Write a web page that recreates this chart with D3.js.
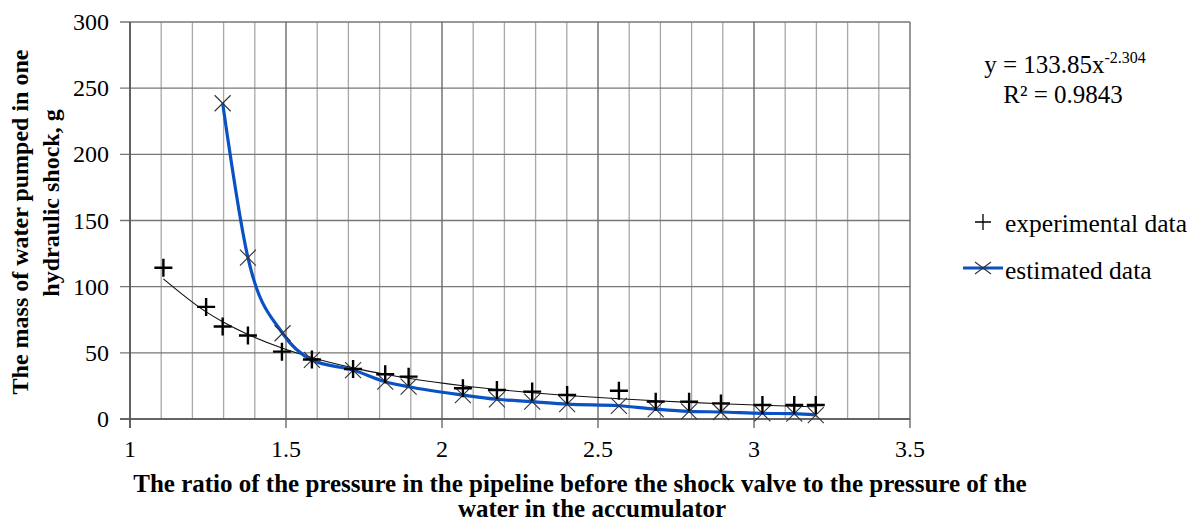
<!DOCTYPE html>
<html>
<head>
<meta charset="utf-8">
<script src="https://cdn.jsdelivr.net/npm/d3@7/dist/d3.min.js"></script>
<style>
  html, body { margin: 0; padding: 0; background: #fff; }
  svg { display: block; }
  text { font-family: "Liberation Serif", "Times New Roman", Times, serif; fill: #000; }
</style>
</head>
<body>
<svg id="chart" width="1196" height="523"></svg>
<script>
// ---- data ----
const expX = [1.107, 1.244, 1.297, 1.378, 1.487, 1.583, 1.715, 1.818, 1.893, 2.067, 2.176, 2.289, 2.401, 2.567, 2.685, 2.792, 2.894, 3.027, 3.129, 3.198];
const expY = [114.3, 84.7, 69.9, 63.1, 50.9, 45.0, 37.8, 33.8, 32.0, 23.2, 21.9, 20.7, 18.1, 21.4, 13.1, 13.1, 11.8, 10.6, 10.6, 10.6];
const estX = [1.297, 1.378, 1.489, 1.583, 1.715, 1.818, 1.893, 2.067, 2.176, 2.289, 2.401, 2.567, 2.685, 2.792, 2.894, 3.027, 3.129, 3.198];
const estY = [238.6, 121.9, 64.8, 44.6, 37.0, 28.2, 24.4, 18.1, 14.9, 13.1, 11.2, 10.0, 7.5, 5.8, 5.3, 4.3, 4.0, 3.0];
// power trendline of experimental data, as displayed: y = 133.85 x^-2.304
const trendA = 133.85;
const trendB = -2.304;
const xTicks = [1, 1.5, 2, 2.5, 3, 3.5];
const xMinor = [1.1, 1.2, 1.3, 1.4, 1.6, 1.7, 1.8, 1.9, 2.1, 2.2, 2.3, 2.4, 2.6, 2.7, 2.8, 2.9, 3.1, 3.2, 3.3, 3.4];
const yTicks = [0, 50, 100, 150, 200, 250, 300];
const seriesNames = ["experimental data", "estimated data"];
const xTitle = ["The ratio of the pressure in the pipeline before the shock valve to the pressure of the", "water in the accumulator"];
const yTitle = ["The mass of water pumped in one", "hydraulic shock, g"];

// ---- layout ----
const svg = d3.select("#chart");
const L = 130, R = 910, T = 22, B = 419;
const x = d3.scaleLinear().domain([1, 3.5]).range([L, R]);
const y = d3.scaleLinear().domain([0, 300]).range([B, T]);

// grid
const g = svg.append("g");
g.selectAll("line.minor").data(xMinor).join("line")
  .attr("x1", d => x(d)).attr("x2", d => x(d)).attr("y1", T).attr("y2", B)
  .attr("stroke", "#a8a8a8").attr("stroke-width", 1.3);
g.selectAll("line.hgrid").data(yTicks).join("line")
  .attr("x1", L - 10).attr("x2", R).attr("y1", d => y(d)).attr("y2", d => y(d))
  .attr("stroke", "#777").attr("stroke-width", 1.3);
g.selectAll("line.major").data(xTicks).join("line")
  .attr("x1", d => x(d)).attr("x2", d => x(d)).attr("y1", T).attr("y2", B + 9)
  .attr("stroke", "#6a6a6a").attr("stroke-width", 1.4);

// axes lines
g.append("line").attr("x1", L).attr("x2", L).attr("y1", T).attr("y2", B + 9)
  .attr("stroke", "#555").attr("stroke-width", 1.6);
g.append("line").attr("x1", L - 10).attr("x2", R).attr("y1", B).attr("y2", B)
  .attr("stroke", "#555").attr("stroke-width", 1.6);

// tick labels
svg.append("g").selectAll("text").data(yTicks).join("text")
  .attr("x", 109).attr("y", d => y(d) + 8)
  .attr("text-anchor", "end").attr("font-size", 24)
  .text(d => d);
svg.append("g").selectAll("text").data(xTicks).join("text")
  .attr("x", d => x(d)).attr("y", 457)
  .attr("text-anchor", "middle").attr("font-size", 24)
  .text(d => d);

// trendline
const trendPts = expX.map(v => [v, trendA * Math.pow(v, trendB)]);
svg.append("path").datum(trendPts)
  .attr("d", d3.line().x(d => x(d[0])).y(d => y(d[1])).curve(d3.curveMonotoneX))
  .attr("fill", "none").attr("stroke", "#111").attr("stroke-width", 1.1);

// estimated line
const estPts = estX.map((v, i) => [v, estY[i]]);
svg.append("path").datum(estPts)
  .attr("d", d3.line().x(d => x(d[0])).y(d => y(d[1])).curve(d3.curveMonotoneX))
  .attr("fill", "none").attr("stroke", "#0a52c4").attr("stroke-width", 3.2);

const crossPath = "M-8,-8L8,8M-8,8L8,-8";
const plusPath = "M-9,0H9M0,-9V9";
svg.append("g").selectAll("path").data(estPts).join("path")
  .attr("transform", d => `translate(${x(d[0])},${y(d[1])})`)
  .attr("d", crossPath).attr("stroke", "#333").attr("stroke-width", 1.1).attr("fill", "none");
const expPts = expX.map((v, i) => [v, expY[i]]);
svg.append("g").selectAll("path").data(expPts).join("path")
  .attr("transform", d => `translate(${x(d[0])},${y(d[1])})`)
  .attr("d", plusPath).attr("stroke", "#000").attr("stroke-width", 2.4).attr("fill", "none");

// axis titles
svg.append("g").selectAll("text").data(xTitle).join("text")
  .attr("x", (d, i) => i === 0 ? 580 : 592).attr("y", (d, i) => 492 + i * 25)
  .attr("text-anchor", "middle").attr("font-size", 25).attr("font-weight", "bold")
  .text(d => d);
svg.append("g").selectAll("text").data(yTitle).join("text")
  .attr("transform", (d, i) => `translate(${i === 0 ? 28 : 59},${i === 0 ? 222 : 203}) rotate(-90)`)
  .attr("text-anchor", "middle").attr("font-size", 24).attr("font-weight", "bold")
  .text(d => d);

// equation
const eq = svg.append("text").attr("x", 1065).attr("y", 73).attr("text-anchor", "middle").attr("font-size", 25);
eq.append("tspan").text("y = " + trendA + "x");
eq.append("tspan").attr("dy", -10).attr("font-size", 16).text(String(trendB));
svg.append("text").attr("x", 1063).attr("y", 103).attr("text-anchor", "middle").attr("font-size", 25)
  .text("R² = 0.9843");

// legend
const lg = svg.append("g");
lg.append("path").attr("transform", "translate(983,222)").attr("d", "M-8,0H8M0,-8V8")
  .attr("stroke", "#000").attr("stroke-width", 1.3);
lg.append("line").attr("x1", 963).attr("x2", 1003).attr("y1", 268).attr("y2", 268)
  .attr("stroke", "#0a52c4").attr("stroke-width", 3.2);
lg.append("path").attr("transform", "translate(983,268)").attr("d", "M-8,-6L8,6M-8,6L8,-6")
  .attr("stroke", "#333").attr("stroke-width", 1.1);
lg.selectAll("text").data(seriesNames).join("text")
  .attr("x", 1005).attr("y", (d, i) => 232 + i * 47)
  .attr("font-size", 25.5)
  .text(d => d);
</script>
</body>
</html>
